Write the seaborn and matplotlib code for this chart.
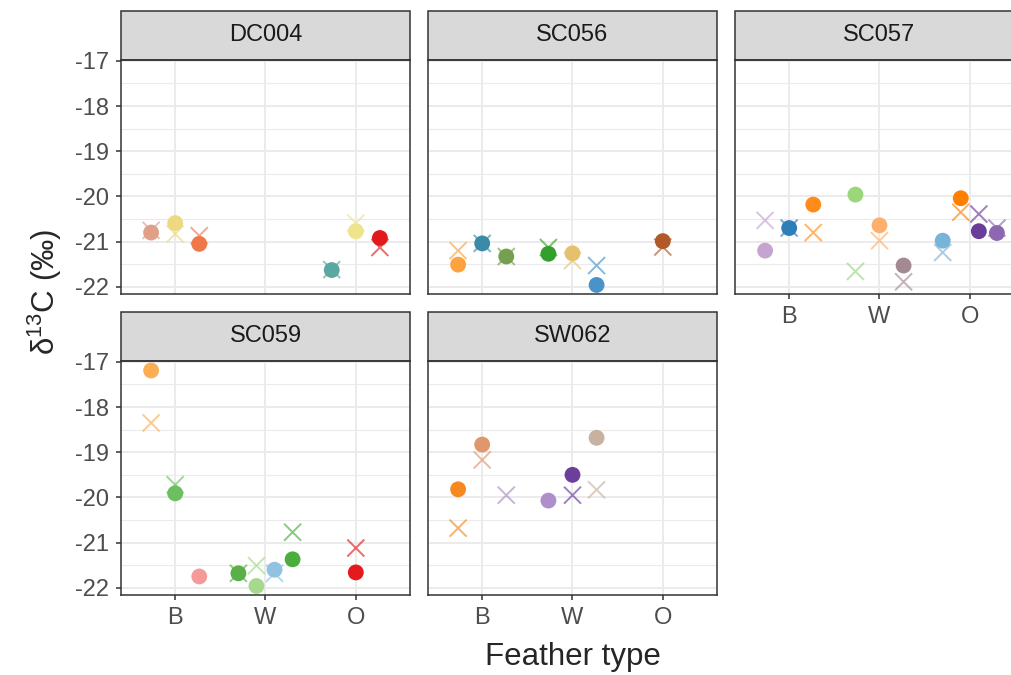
import seaborn as sns
import matplotlib.pyplot as plt
import matplotlib.patches as patches
import numpy as np
import pandas as pd

# data (delta 13C, per sample)
facets = ['DC004', 'SC056', 'SC057', 'SC059', 'SW062']
feather_types = ['B', 'W', 'O']

facet = (['DC004'] * 6 + ['SC056'] * 7 + ['SC057'] * 10 +
         ['SC059'] * 8 + ['SW062'] * 6)
feather = (['B', 'B', 'B', 'O', 'O', 'O'] +
           ['B', 'B', 'B', 'W', 'W', 'W', 'O'] +
           ['B', 'B', 'B', 'W', 'W', 'W', 'O', 'O', 'O', 'O'] +
           ['B', 'B', 'B', 'W', 'W', 'W', 'W', 'O'] +
           ['B', 'B', 'B', 'W', 'W', 'W'])
bird = ['DC004_%d' % i for i in range(1, 7)] + \
       ['SC056_%d' % i for i in range(1, 8)] + \
       ['SC057_%d' % i for i in range(1, 11)] + \
       ['SC059_%d' % i for i in range(1, 9)] + \
       ['SW062_%d' % i for i in range(1, 7)]
d13c_dot = [-20.80, -20.59, -21.05, -21.63, -20.77, -20.92,
            -21.51, -21.04, -21.33, -21.27, -21.26, -21.96, -20.99,
            -21.20, -20.70, -20.18, -19.96, -20.64, -21.53, -20.98, -20.04, -20.77, -20.81,
            -17.19, -19.91, -21.75, -21.68, -21.96, -21.60, -21.37, -21.66,
            -19.82, -18.83, np.nan, -20.07, -19.50, -18.68]
d13c_cross = [-20.75, -20.83, -20.87, -21.62, -20.59, -21.13,
              -21.20, -21.04, -21.33, -21.13, -21.42, -21.53, -21.12,
              -20.53, -20.70, -20.80, -21.66, -20.98, -21.89, -21.24, -20.35, -20.39, -20.70,
              -18.35, -19.72, np.nan, -21.68, -21.51, -21.68, -20.77, -21.12,
              -20.68, -19.17, -19.95, np.nan, -19.95, -19.83]
bird_colors = ['#E0A088', '#EDDA80', '#F07848', '#5BA8A0', '#EEE48C', '#E31A1C',
               '#FDA23E', '#3B8BA8', '#74A050', '#33A02C', '#E5C16E', '#4A93C8', '#B15928',
               '#C5A5D0', '#2C7FB8', '#FF8C1A', '#9AD67A', '#FDAF6B', '#A38A92', '#78B3D8',
               '#FF8000', '#6A3D9A', '#8D67B0',
               '#FDAE55', '#6CBF5E', '#F59A9A', '#5AAF48', '#A6D88E', '#92C2E2', '#4AAD3C',
               '#E41A1C',
               '#F5891F', '#E0976B', '#A58FBD', '#AF8FCA', '#6C3F9A', '#C8B19E']

df = pd.DataFrame({'facet': facet, 'feather': feather, 'bird': bird,
                   'dot': d13c_dot, 'cross': d13c_cross})
palette = dict(zip(bird, bird_colors))

# dodge (width 0.8) of samples within each panel / feather type
df['xbase'] = df['feather'].map({t: i for i, t in enumerate(feather_types)})
df['rank'] = df.groupby(['facet', 'feather']).cumcount()
df['n'] = df.groupby(['facet', 'feather'])['bird'].transform('count')
df['xpos'] = df['xbase'] + (df['rank'] - (df['n'] - 1) / 2) * 0.8 / df['n']

sns.set_style("white")
plt.rcParams['font.family'] = ['Liberation Sans', 'DejaVu Sans']
plt.rcParams['mathtext.fontset'] = 'custom'
plt.rcParams['mathtext.rm'] = 'Liberation Sans'
plt.rcParams['mathtext.default'] = 'regular'

W, H = 1012, 675
fig = plt.figure(figsize=(W / 100, H / 100), dpi=100)

col_left = [121, 428, 735]
panel_w = 289
row_top = [60, 361]
panel_h = 234
strip_h = 49.5

for k, f in enumerate(facets):
    r, c = divmod(k, 3)
    ax = fig.add_axes([col_left[c] / W, (H - row_top[r] - panel_h) / H,
                       panel_w / W, panel_h / H])
    sub = df[df['facet'] == f]

    sns.scatterplot(data=sub.dropna(subset=['cross']), x='xpos', y='cross', hue='bird',
                    palette=palette, marker='x', s=150, linewidth=1.4, alpha=0.65,
                    legend=False, ax=ax)
    sns.scatterplot(data=sub.dropna(subset=['dot']), x='xpos', y='dot', hue='bird',
                    palette=palette, marker='o', s=130, linewidth=0,
                    legend=False, ax=ax)

    ax.set_xlim(-0.6, 2.6)
    ax.set_ylim(-22.16, -16.98)
    ax.set_xticks(range(3))
    ax.set_yticks(range(-22, -16))
    ax.set_yticks(np.arange(-21.5, -16.9, 1.0), minor=True)
    ax.set_axisbelow(True)
    ax.grid(which='major', color='#EBEBEB', linewidth=1.4)
    ax.grid(which='minor', axis='y', color='#EBEBEB', linewidth=0.8)
    ax.set_xlabel('')
    ax.set_ylabel('')
    for s in ax.spines.values():
        s.set_color('#333333')
        s.set_linewidth(1.1)

    # x axis only on the lowest panel in each column, y axis only in first column
    show_x = (r == 1) or (k == 2)
    show_y = (c == 0)
    ax.tick_params(axis='both', which='major', length=3.5, width=1.1, color='#333333',
                   labelsize=17, labelcolor='#4D4D4D', pad=5)
    ax.tick_params(axis='both', which='minor', length=0)
    ax.tick_params(axis='x', bottom=show_x, labelbottom=show_x)
    ax.tick_params(axis='y', left=show_y, labelleft=show_y)
    ax.set_xticklabels(feather_types)
    ax.set_yticklabels([str(v) for v in range(-22, -16)])

    # ggplot-like strip
    sh = strip_h / panel_h
    ax.add_patch(patches.Rectangle((0, 1), 1, sh, transform=ax.transAxes, clip_on=False,
                                   facecolor='#D9D9D9', edgecolor='#333333', linewidth=1.1))
    ax.text(0.5, 1 + sh / 2, f, transform=ax.transAxes, ha='center', va='center',
            fontsize=17, color='#1A1A1A')

fig.text(573 / W, (H - 657) / H, 'Feather type', ha='center', va='center', fontsize=22.5)
fig.text(45 / W, (H - 292) / H, 'δ$^{13}$C (‰)', ha='center', va='center',
         rotation=90, fontsize=22.5)

plt.savefig('out.png', dpi=100)
